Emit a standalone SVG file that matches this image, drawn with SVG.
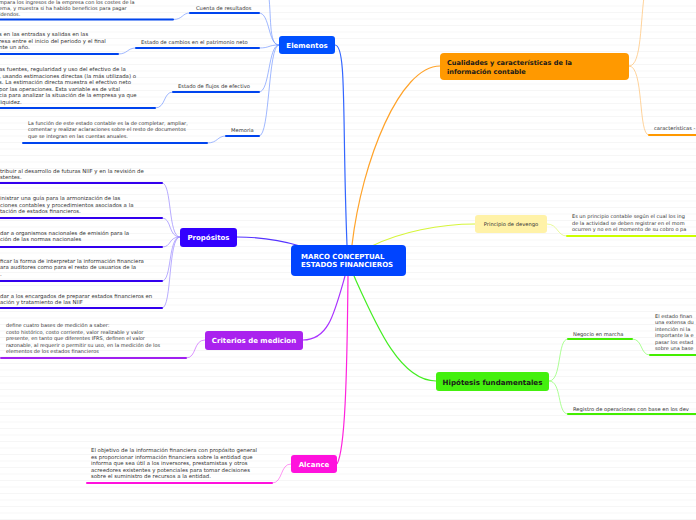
<svg xmlns="http://www.w3.org/2000/svg" width="696" height="520" viewBox="0 0 696 520">
<defs>
<pattern id="stripes" width="696" height="6.5" patternUnits="userSpaceOnUse">
<rect width="696" height="6.5" fill="#ffffff"/>
<rect y="5.8" width="696" height="0.7" fill="#f4f4f4"/>
</pattern>
</defs>
<style>
text{font-family:"DejaVu Sans","Liberation Sans",sans-serif;}
.t{font-size:5px;fill:#333333;}
.t2{font-size:5.4px;fill:#333333;}
.lbl{font-size:5.2px;fill:#333333;}
.nt{font-weight:bold;fill:#ffffff;font-size:7px;}
.nd{font-weight:bold;fill:#1a1a1a;}
.c{fill:none;stroke-width:1.2;}
.s{fill:none;stroke-width:0.7;}
.u{fill:none;stroke-width:2;stroke-linecap:round;}
</style>
<rect width="696" height="520" fill="url(#stripes)"/>

<g id="connectors">
<path class="c" stroke="#3366ff" d="M335,45 C347,45 342,120 347,245"/>
<path class="c" stroke="#ffa32a" d="M352,245 C362,160 400,66 440,66"/>
<path class="c" stroke="#d6f53a" d="M372,246 C400,232 440,224 475,224"/>
<path class="c" stroke="#44ee22" d="M354,276 C376,325 400,381 436,381"/>
<path class="c" stroke="#ff22dd" d="M348,276 C347,380 345,450 337,464"/>
<path class="c" stroke="#aa33ff" d="M345,276 C334,315 328,340 303,340"/>
<path class="c" stroke="#5533ff" d="M237,237 C262,237 280,240 300,246"/>
<path class="s" stroke="#7799ff" d="M279,45 C268,45 272,15 268,-10"/>
<path class="s" stroke="#7799ff" d="M279,45 C268,45 270,13 259,13"/>
<path class="s" stroke="#7799ff" d="M279,45 C268,45 270,48 259,48"/>
<path class="s" stroke="#7799ff" d="M279,45 C268,45 270,92 259,92"/>
<path class="s" stroke="#7799ff" d="M279,45 C268,45 270,136 259,136"/>
<path class="s" stroke="#7799ff" d="M190,13 C182,13 183,19.5 173,19.5"/>
<path class="s" stroke="#7799ff" d="M136,48 C127,48 128,54 118,54"/>
<path class="s" stroke="#7799ff" d="M173,92 C163,92 166,108 155,108"/>
<path class="s" stroke="#7799ff" d="M226,136 C217,136 218,143 207,143"/>
<path class="u" stroke="#0044ee" d="M190,13 H259 M136,48 H259 M173,92 H259 M226,136 H259"/>
<path class="u" stroke="#0044ee" d="M-2,19.5 H173 M-2,54 H118 M-2,108 H155 M23,143 H207"/>
<path class="s" stroke="#9988ff" d="M180,237 C168,237 172,183 162,183"/>
<path class="s" stroke="#9988ff" d="M180,237 C168,237 172,218 162,218"/>
<path class="s" stroke="#9988ff" d="M180,237 C168,237 172,247 162,247"/>
<path class="s" stroke="#9988ff" d="M180,237 C168,237 172,281 162,281"/>
<path class="s" stroke="#9988ff" d="M180,237 C168,237 172,308 162,308"/>
<path class="u" stroke="#3300ee" d="M-2,183 H162 M-2,218 H162 M-2,247 H162 M-2,281 H162 M-2,308 H162"/>
<path class="s" stroke="#cc66ff" d="M205,340 C193,340 197,358 186,358"/>
<path class="u" stroke="#a020f0" d="M1,358 H186"/>
<path class="s" stroke="#ff66ee" d="M291,464 C280,464 283,483 272,483"/>
<path class="u" stroke="#ff11dd" d="M87,483 H272"/>
<path class="s" stroke="#ffc070" d="M629,66 C642,66 640,20 645,-10"/>
<path class="s" stroke="#ffc070" d="M629,66 C644,66 638,135 649,135"/>
<path class="u" stroke="#ff9900" d="M649,135 H698"/>
<path class="s" stroke="#e0f870" d="M547,224 C558,224 557,236 567,236"/>
<path class="u" stroke="#ccff00" d="M567,236 H698"/>
<path class="s" stroke="#88ff66" d="M549,381 C562,381 557,339 568,339"/>
<path class="s" stroke="#88ff66" d="M549,381 C562,381 557,414 568,414"/>
<path class="s" stroke="#88ff66" d="M632,339 C643,339 640,355 650,355"/>
<path class="u" stroke="#44ee00" d="M568,339 H632 M650,355 H698 M568,414 H698"/>
</g>

<g id="center">
<rect x="291" y="245" width="115" height="31" rx="4" fill="#0044ff"/>
<text class="nt" font-size="7.3" x="301" y="258.5">MARCO CONCEPTUAL</text>
<text class="nt" font-size="7.3" x="301" y="267">ESTADOS FINANCIEROS</text>
</g>

<g id="elementos">
<rect x="279" y="36" width="56" height="18" rx="3" fill="#0050ff"/>
<text class="nt" x="307" y="47.5" text-anchor="middle">Elementos</text>
</g>
<g id="cuenta-resultados">
<text class="lbl" x="196" y="10">Cuenta de resultados</text>
<text class="t" font-size="5.2" x="-1" y="4">mpara los ingresos de la empresa con los costes de la</text>
<text class="t" font-size="5.2" x="-1" y="10">ema, y muestra si ha habido beneficios para pagar</text>
<text class="t" font-size="5.2" x="-1" y="16">idendos.</text>
</g>
<g id="estado-cambios">
<text class="lbl" x="141" y="43.5">Estado de cambios en el patrimonio neto</text>
<text class="t2" x="-1" y="36">s en las entradas y salidas en las</text>
<text class="t2" x="-1" y="42.5">resa entre el inicio del periodo y el final</text>
<text class="t2" x="-1" y="49">nte un año.</text>
</g>
<g id="estado-flujos">
<text class="lbl" x="178" y="88">Estado de flujos de efectivo</text>
<text class="t2" x="-1" y="71">as fuentes, regularidad y uso del efectivo de la</text>
<text class="t2" x="-1" y="77.5">, usando estimaciones directas (la más utilizada) o</text>
<text class="t2" x="-1" y="84">s. La estimación directa muestra el efectivo neto</text>
<text class="t2" x="-1" y="90.5">por las operaciones. Esta variable es de vital</text>
<text class="t2" x="-1" y="97">cia para analizar la situación de la empresa ya que</text>
<text class="t2" x="-1" y="103.5">liquidez.</text>
</g>
<g id="memoria">
<text class="lbl" x="231" y="132">Memoria</text>
<text class="t" x="28" y="124.5">La función de este estado contable es la de completar, ampliar,</text>
<text class="t" x="28" y="131">comentar y realizar aclaraciones sobre el resto de documentos</text>
<text class="t" x="28" y="137.5">que se integran en las cuentas anuales.</text>
</g>

<g id="propositos">
<rect x="180" y="228" width="57" height="19" rx="3" fill="#3300ff"/>
<text class="nt" x="208.5" y="240" text-anchor="middle">Propósitos</text>
</g>
<g id="proposito-1">
<text class="t2" x="0" y="172.5">tribuir al desarrollo de futuras NIIF y en la revisión de</text>
<text class="t2" x="0" y="179">stentes.</text>
</g>
<g id="proposito-2">
<text class="t2" x="0" y="200">inistrar una guía para la armonización de las</text>
<text class="t2" x="0" y="206.5">ciones contables y procedimientos asociados a la</text>
<text class="t2" x="0" y="213">tación de estados financieros.</text>
</g>
<g id="proposito-3">
<text class="t2" x="0" y="234.5">dar a organismos nacionales de emisión para la</text>
<text class="t2" x="0" y="241">ción de las normas nacionales</text>
</g>
<g id="proposito-4">
<text class="t2" x="0" y="262.5">ficar la forma de interpretar la información financiera</text>
<text class="t2" x="0" y="269">ara auditores como para el resto de usuarios de la</text>
<text class="t2" x="0" y="275.5">.</text>
</g>
<g id="proposito-5">
<text class="t2" x="0" y="297.5">dar a los encargados de preparar estados financieros en</text>
<text class="t2" x="0" y="304">ación y tratamiento de las NIIF</text>
</g>

<g id="criterios">
<rect x="205" y="331" width="98" height="19" rx="3" fill="#aa22ee"/>
<text class="nt" x="254" y="343" text-anchor="middle">Criterios de medicion</text>
</g>
<g id="criterios-texto">
<text class="t" x="6" y="327">define cuatro bases de medición a saber:</text>
<text class="t" x="6" y="333.5">costo histórico, costo corriente, valor realizable y valor</text>
<text class="t" x="6" y="340">presente, en tanto que diferentes IFRS, definen el valor</text>
<text class="t" x="6" y="346.5">razonable, al requerir o permitir su uso, en la medición de los</text>
<text class="t" x="6" y="353">elementos de los estados financieros</text>
</g>

<g id="alcance">
<rect x="291" y="455" width="46" height="18" rx="3" fill="#ff11dd"/>
<text class="nt" x="314" y="466.5" text-anchor="middle">Alcance</text>
</g>
<g id="alcance-texto">
<text class="t2" x="91" y="452">El objetivo de la información financiera con propósito general</text>
<text class="t2" x="91" y="458.5">es proporcionar información financiera sobre la entidad que</text>
<text class="t2" x="91" y="465">informa que sea útil a los inversores, prestamistas y otros</text>
<text class="t2" x="91" y="471.5">acreedores existentes y potenciales para tomar decisiones</text>
<text class="t2" x="91" y="478">sobre el suministro de recursos a la entidad.</text>
</g>

<g id="cualidades">
<rect x="440" y="53" width="189" height="27" rx="4" fill="#ff9900"/>
<text class="nd" font-size="6.6" x="447" y="65">Cualidades y características de la</text>
<text class="nd" font-size="6.6" x="447" y="74">información contable</text>
</g>
<g id="caracteristicas">
<text class="lbl" x="654" y="130">características -</text>
</g>

<g id="devengo">
<rect x="475" y="215" width="72" height="18" rx="3" fill="#fff2a8"/>
<text class="lbl" x="511" y="226" text-anchor="middle">Principio de devengo</text>
</g>
<g id="devengo-texto">
<text class="t" font-size="5.5" x="572" y="218">Es un principio contable según el cual los ing</text>
<text class="t" font-size="5.5" x="572" y="224.5">de la actividad se deben registrar en el mom</text>
<text class="t" font-size="5.5" x="572" y="231">ocurren y no en el momento de su cobro o pa</text>
</g>

<g id="hipotesis">
<rect x="436" y="372" width="113" height="19" rx="3" fill="#44f00e"/>
<text class="nd" font-size="7.1" x="492.5" y="384.5" text-anchor="middle">Hipótesis fundamentales</text>
</g>
<g id="negocio-marcha">
<text class="lbl" x="573" y="335.5">Negocio en marcha</text>
<text class="t" x="655" y="317.5">El estado finan</text>
<text class="t" x="655" y="324">una extensa du</text>
<text class="t" x="655" y="330.5">intención ni la</text>
<text class="t" x="655" y="337">importante la e</text>
<text class="t" x="655" y="343.5">pasar los estad</text>
<text class="t" x="655" y="350">sobre una base</text>
</g>
<g id="registro-operaciones">
<text class="lbl" x="573" y="411">Registro de operaciones con base en los dev</text>
</g>
</svg>
